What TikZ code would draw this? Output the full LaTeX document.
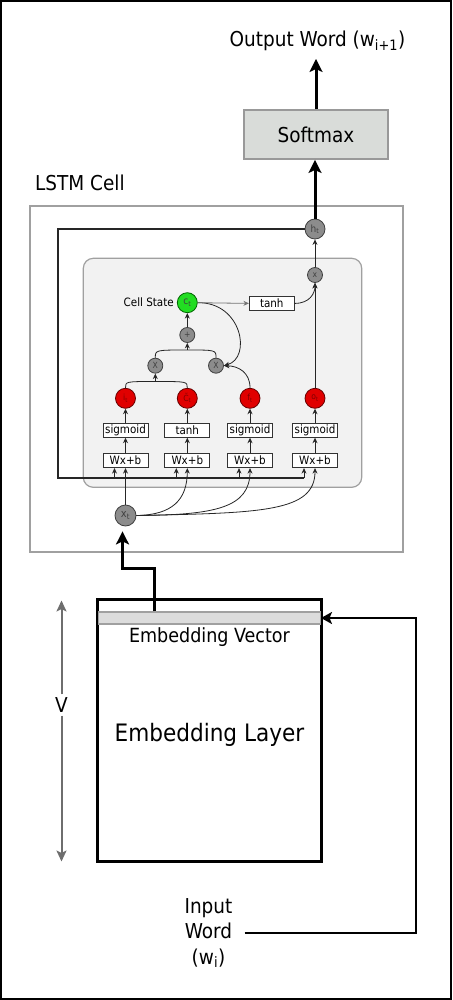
\documentclass[tikz,border=0pt]{standalone}
\usepackage{fontspec}
\setmainfont{DejaVu Sans Condensed}
\usetikzlibrary{arrows.meta}
\definecolor{cellgray}{HTML}{A0A0A0}
\definecolor{innerfill}{HTML}{F2F2F2}
\definecolor{nodegray}{HTML}{8C8C8C}
\definecolor{gatered}{HTML}{E00000}
\definecolor{cellgreen}{HTML}{22DD22}
\definecolor{softfill}{HTML}{D9DCD9}
\definecolor{stripfill}{HTML}{DCDCDC}
\definecolor{vgray}{HTML}{6E6E6E}
\tikzset{
  bigtext/.style={font=\fontsize{20.5}{25.5}\selectfont, inner sep=0pt},
  gcirc/.style={circle, fill=nodegray, draw=black!75, line width=0.8pt, minimum size=20pt, inner sep=0pt, font=\fontsize{10}{10}\selectfont, text=black!75},
  opcirc/.style={gcirc, minimum size=15pt, font=\fontsize{8.5}{8.5}\selectfont},
  redcirc/.style={circle, fill=gatered, draw=black!60!red, line width=0.8pt, minimum size=20pt, inner sep=0pt, font=\fontsize{8.5}{8.5}\selectfont, text=black!50!red},
  fnbox/.style={draw=black!80, fill=white, line width=0.8pt, minimum width=45pt, minimum height=14pt, inner sep=0pt, font=\fontsize{11.5}{12}\selectfont},
  arr/.style={line width=0.8pt, draw=black!85, -{Stealth[length=5.5pt,width=5pt]}},
  graylink/.style={line width=0.8pt, draw=black!55, -{Stealth[length=5.5pt,width=5pt]}},
  fbline/.style={line width=1.5pt, draw=black!85},
  bigarr/.style={line width=3pt, -{Stealth[length=13pt,width=13pt,inset=3pt]}},
  medarr/.style={line width=2pt, -{Stealth[length=11pt,width=12pt,inset=2.5pt]}},
  varr/.style={line width=2pt, draw=vgray, -{Stealth[length=11pt,width=10pt,inset=2.5pt]}},
}
\begin{document}
\begin{tikzpicture}[x=1pt,y=-1pt]
\useasboundingbox (0,0) rectangle (452,1000);
\draw[line width=2pt] (1,1) rectangle (451,999);

% --- output part
\node[bigtext, anchor=base, inner ysep=8pt] (outw) at (317.5,46.5) {Output Word (w\textsubscript{i+1})};
\node[draw=black!40, fill=softfill, line width=1.5pt, minimum width=144pt, minimum height=49pt, font=\fontsize{20.5}{24}\selectfont] (sm) at (316,134.7) {Softmax};
\draw[bigarr] (sm.north) -- (sm.north |- outw.south);

% --- LSTM cell
\node[bigtext, anchor=base west] (lstmlbl) at (35,190.5) {LSTM Cell};
\node[draw=cellgray, line width=2pt, minimum width=373.5pt, minimum height=345.5pt] (lstm) at (216.25,378.75) {};
\node[draw=cellgray, fill=innerfill, line width=1.2pt, rounded corners=10pt, minimum width=278.4pt, minimum height=229pt] (inner) at (222.5,372.8) {};

\node[gcirc] (ht) at (315,229) {h\textsubscript{t}};
\node[opcirc] (xo) at (315,275) {x};
\node[gcirc, fill=cellgreen, draw=black!60!green] (ct) at (187.3,302.7) {c\textsubscript{t}};
\node[anchor=east, inner sep=1pt, font=\fontsize{11.5}{12}\selectfont] (cslbl) at ([xshift=-2pt]ct.west) {Cell State};
\node[fnbox, minimum height=13.3pt] (tanhc) at (271.8,303.4) {tanh};
\node[opcirc] (plus) at (187.3,335) {+};
\node[opcirc] (X1) at (155.3,365.7) {X};
\node[opcirc] (X2) at (216,365.7) {X};

\node[redcirc] (gi) at (125.5,398.3) {i\textsubscript{t}};
\node[redcirc] (gc) at (187.3,398.3) {\~{C}\textsubscript{t}};
\node[redcirc] (gf) at (250,398.3) {f\textsubscript{t}};
\node[redcirc] (go) at (315,398.3) {o\textsubscript{t}};

\node[fnbox] (s1) at (125.5,430.3) {sigmoid};
\node[fnbox] (s2) at (187.3,430.3) {tanh};
\node[fnbox] (s3) at (250,430.3) {sigmoid};
\node[fnbox] (s4) at (315,430.3) {sigmoid};

\node[fnbox] (wx1) at (125.5,460.7) {Wx+b};
\node[fnbox] (wx2) at (187.3,460.7) {Wx+b};
\node[fnbox] (wx3) at (250,460.7) {Wx+b};
\node[fnbox] (wx4) at (315,460.7) {Wx+b};

\node[gcirc, minimum size=21pt, font=\fontsize{11}{11}\selectfont] (xt) at (125.5,515.5) {x\textsubscript{t}};

% gate internals
\foreach \k/\g in {1/gi,2/gc,3/gf,4/go}{
  \draw[arr] (wx\k.north) -- (s\k.south);
  \draw[arr] (s\k.north) -- (\g.south);
}
\coordinate (m1) at (155.3,381.5);
\coordinate (m2) at (187.3,350);
\draw[line width=0.8pt, draw=black!85] (gi.north) .. controls (125.5,381.5) .. (m1);
\draw[line width=0.8pt, draw=black!85] (gc.north) .. controls (187.3,381.5) .. (m1);
\draw[arr] (m1) -- (X1.south);
\draw[line width=0.8pt, draw=black!85] (X1.north) .. controls (155.3,350) .. (m2);
\draw[line width=0.8pt, draw=black!85] (X2.north) .. controls (216,350) .. (m2);
\draw[arr] (m2) -- (plus.south);
\draw[arr] (plus.north) -- (ct.south);
\draw[arr] (gf.north) .. controls (250,372) and (238,366) .. (X2.east);
\draw[arr] (ct.east) .. controls (242,302) and (252,358) .. (X2.east);
\draw[graylink] (ct.east) -- (tanhc.west);
\draw[arr] (tanhc.east) .. controls (310,303.4) and (315,293) .. (xo.south);
\draw[arr] (go.north) -- (xo.south);
\draw[arr] (xo.north) -- (ht.south);

% feedback of h_t
\coordinate (fb) at (58,478);
\coordinate (f1) at (114.5,478);
\coordinate (f2) at (176.3,478);
\coordinate (f3) at (239,478);
\coordinate (f4) at (304,478);
\draw[fbline] (ht.west) -| (fb) -- (f4);
\foreach \k in {1,2,3,4}{
  \draw[arr] (f\k) -- (f\k |- wx\k.south);
}

% x_t inputs
\draw[arr] (xt.north) -- (wx1.south);
\draw[arr] (xt.east) .. controls (172,515) and (187.3,500) .. (wx2.south);
\draw[arr] (xt.east) .. controls (215,515) and (250,508) .. (wx3.south);
\draw[arr] (xt.east) .. controls (262,513) and (315,512) .. (wx4.south);

\draw[bigarr] (ht.north) -- (ht.north |- sm.south);

% --- embedding
\node[draw=black, line width=3pt, minimum width=223.5pt, minimum height=262pt] (el) at (209.25,730.5) {};
\node[draw=cellgray, fill=stripfill, line width=1.5pt, minimum width=222pt, minimum height=12pt, inner sep=0pt] (ev) at (209.25,618) {};
\node[anchor=base, inner sep=0pt, font=\fontsize{19.5}{24}\selectfont] (evlbl) at (209.5,642) {Embedding Vector};
\node[inner sep=0pt, font=\fontsize{24}{28}\selectfont] (ellbl) at (209.5,735) {Embedding Layer};

\node[bigtext, fill=white, inner sep=3pt] (vn) at (61.5,705) {V};
\coordinate (vt) at (61.5,600.5);
\coordinate (vb) at (61.5,861.5);
\draw[varr] (vn) -- (vt);
\draw[varr] (vn) -- (vb);

\draw[bigarr] ([xshift=-55pt]ev.north) -- ++(0,-43) -| ([xshift=-3pt]xt.south) [shorten >=5pt];

\node[bigtext, align=center, inner xsep=12pt] (inw) at (208.5,933) {Input\\Word\\(w\textsubscript{i})};
\draw[medarr] (inw.east) -| ([xshift=95pt]ev.east) -- (ev.east);
\end{tikzpicture}
\end{document}
